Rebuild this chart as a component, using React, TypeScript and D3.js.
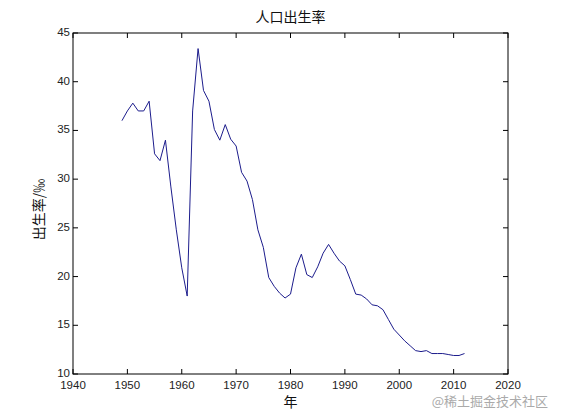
import React from "react";
import * as d3 from "d3";

const years: number[] = [
  1949, 1950, 1951, 1952, 1953, 1954, 1955, 1956, 1957, 1958, 1959, 1960, 1961, 1962, 1963, 1964,
  1965, 1966, 1967, 1968, 1969, 1970, 1971, 1972, 1973, 1974, 1975, 1976, 1977, 1978, 1979, 1980,
  1981, 1982, 1983, 1984, 1985, 1986, 1987, 1988, 1989, 1990, 1991, 1992, 1993, 1994, 1995, 1996,
  1997, 1998, 1999, 2000, 2001, 2002, 2003, 2004, 2005, 2006, 2007, 2008, 2009, 2010, 2011, 2012,
];
const birthRate: number[] = [
  36.0, 37.0, 37.8, 37.0, 37.0, 38.0, 32.6, 31.9, 34.0, 29.2, 24.8, 20.9, 18.0, 37.0, 43.4, 39.1,
  38.0, 35.1, 34.0, 35.6, 34.1, 33.4, 30.7, 29.8, 27.9, 24.8, 23.0, 19.9, 19.0, 18.3, 17.8, 18.2,
  20.9, 22.3, 20.2, 19.9, 21.0, 22.4, 23.3, 22.4, 21.6, 21.1, 19.7, 18.2, 18.1, 17.7, 17.1, 17.0,
  16.6, 15.6, 14.6, 14.0, 13.4, 12.9, 12.4, 12.3, 12.4, 12.1, 12.1, 12.1, 12.0, 11.9, 11.9, 12.1,
];
const xTicks: number[] = [1940, 1950, 1960, 1970, 1980, 1990, 2000, 2010, 2020];
const yTicks: number[] = [10, 15, 20, 25, 30, 35, 40, 45];
const titleText = "人口出生率";
const xLabel = "年";
const yLabel = "出生率/‰";
const watermark = "@稀土掘金技术社区";

const W = 561;
const H = 420;
const L = 73, R = 508, T = 33, B = 374;

export default function App() {
  const x = d3.scaleLinear().domain([1940, 2020]).range([L, R]);
  const y = d3.scaleLinear().domain([10, 45]).range([B, T]);
  const line = d3.line<number>().x((_, i) => x(years[i])).y((d) => y(d));
  const tickFont = "'Liberation Sans', Arial, sans-serif";
  const cjk = "'Noto Sans CJK SC', sans-serif";
  const tl = 5;
  return (
    <svg width={W} height={H} style={{ position: "absolute", left: 0, top: 0, background: "#fff" }}>
      <rect x={0} y={0} width={W} height={H} fill="#fff" />
      <rect x={L} y={T} width={R - L} height={B - T} fill="#fff" stroke="#000" strokeWidth={1} />
      {xTicks.map((t) => (
        <g key={"x" + t}>
          <line x1={x(t)} x2={x(t)} y1={B} y2={B - tl} stroke="#000" />
          <line x1={x(t)} x2={x(t)} y1={T} y2={T + tl} stroke="#000" />
          <text x={x(t)} y={B + 15} textAnchor="middle" fontSize={11.5} fontFamily={tickFont} fill="#222">
            {t}
          </text>
        </g>
      ))}
      {yTicks.map((t) => (
        <g key={"y" + t}>
          <line x1={L} x2={L + tl} y1={y(t)} y2={y(t)} stroke="#000" />
          <line x1={R} x2={R - tl} y1={y(t)} y2={y(t)} stroke="#000" />
          <text x={L - 3} y={y(t) + 3} textAnchor="end" fontSize={11.5} fontFamily={tickFont} fill="#222">
            {t}
          </text>
        </g>
      ))}
      <path d={line(birthRate) || ""} fill="none" stroke="#1c1c8c" strokeWidth={1} />
      <text x={(L + R) / 2} y={22} textAnchor="middle" fontSize={14} fontFamily={cjk} fill="#111">
        {titleText}
      </text>
      <text x={(L + R) / 2} y={407} textAnchor="middle" fontSize={14} fontFamily={cjk} fill="#111">
        {xLabel}
      </text>
      <text
        transform={`translate(44,${(T + B) / 2 + 6}) rotate(-90)`}
        textAnchor="middle"
        fontSize={14}
        fontFamily={cjk}
        fill="#111"
      >
        {yLabel}
      </text>
      <text x={548} y={406} textAnchor="end" fontSize={13} fontFamily={cjk} fill="#aaa">
        {watermark}
      </text>
    </svg>
  );
}
